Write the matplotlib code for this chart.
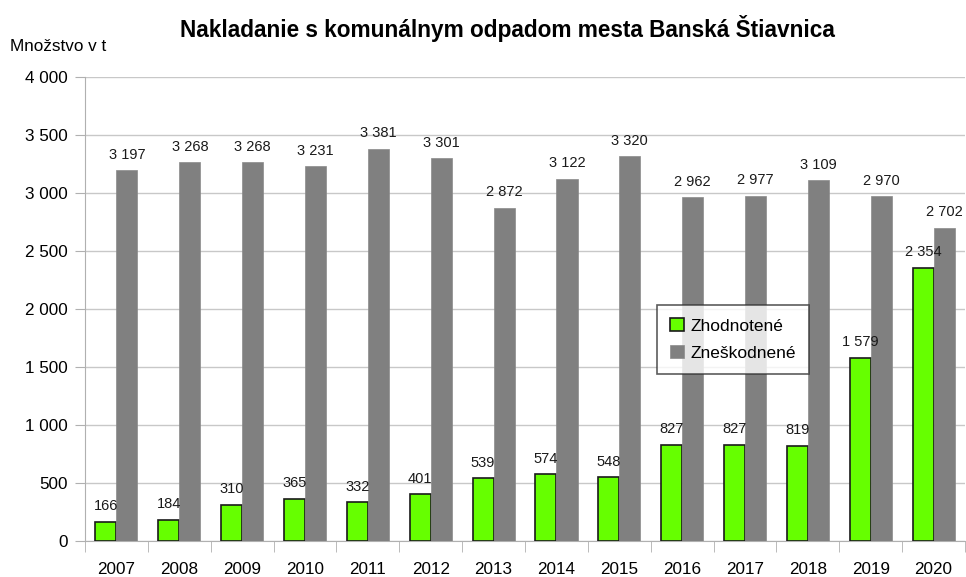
import matplotlib
matplotlib.use("Agg")
import matplotlib.pyplot as plt
import numpy as np

years = ["2007", "2008", "2009", "2010", "2011", "2012", "2013", "2014", "2015", "2016", "2017", "2018", "2019", "2020"]
zhodnotene = [166, 184, 310, 365, 332, 401, 539, 574, 548, 827, 827, 819, 1579, 2354]
zneskodnene = [3197, 3268, 3268, 3231, 3381, 3301, 2872, 3122, 3320, 2962, 2977, 3109, 2970, 2702]
series_names = ["Zhodnotené", "Zneškodnené"]

plt.rcParams['font.family'] = ['Liberation Sans', 'DejaVu Sans']

def fmt(v):
    return f"{v:,}".replace(",", " ")

fig = plt.figure(figsize=(9.66, 5.77), dpi=100)
ax = fig.add_axes([0.088, 0.0624, 0.911, 0.8042])

x = np.arange(len(years))
w = 0.335
ax.bar(x - w / 2, zhodnotene, w, color="#66ff00", edgecolor="#1a1a1a", linewidth=1.2, label=series_names[0], zorder=3)
ax.bar(x + w / 2, zneskodnene, w, color="#808080", edgecolor="#8a8a8a", linewidth=0.5, label=series_names[1], zorder=3)

for xi, v in zip(x, zhodnotene):
    ax.text(xi - w / 2, v + 75, fmt(v), ha="center", va="bottom", fontsize=10.5, color="#1a1a1a")
for xi, v in zip(x, zneskodnene):
    ax.text(xi + w / 2, v + 72, fmt(v), ha="center", va="bottom", fontsize=10.5, color="#1a1a1a")

ax.set_xlim(-0.5, len(years) - 0.5)
ax.set_ylim(0, 4000)
ax.set_yticks(np.arange(0, 4001, 500))
ax.set_yticklabels([fmt(v) for v in range(0, 4001, 500)], fontsize=12.3)
ax.set_xticks(x)
ax.set_xticklabels(years, fontsize=12.3)
ax.set_xticks(np.arange(-0.5, len(years), 1), minor=True)
ax.tick_params(axis="x", which="major", length=0, pad=15)
ax.tick_params(axis="x", which="minor", length=8, color="#b0b0b0")
ax.tick_params(axis="y", length=7, color="#b0b0b0", pad=5.5)

ax.grid(axis="y", color="#c8c8c8", linewidth=1, zorder=0)
for s in ["top", "right"]:
    ax.spines[s].set_visible(False)
ax.spines["left"].set_color("#b0b0b0")
ax.spines["bottom"].set_color("#b0b0b0")

leg = ax.legend(loc="upper left", bbox_to_anchor=(0.65, 0.5086), borderaxespad=0, fontsize=12.5,
                frameon=True, fancybox=False, edgecolor="#333333", handlelength=0.8, handleheight=0.8,
                handletextpad=0.35, borderpad=0.75, labelspacing=0.65)
leg.get_frame().set_linewidth(1.2)

fig.text(0.525, 0.95, "Nakladanie s komunálnym odpadom mesta Banská Štiavnica", ha="center", va="center",
         fontsize=16.3, fontweight="bold")
fig.text(0.01, 0.92, "Množstvo v t", ha="left", va="center", fontsize=12.3)

fig.savefig("out.png", dpi=100)
